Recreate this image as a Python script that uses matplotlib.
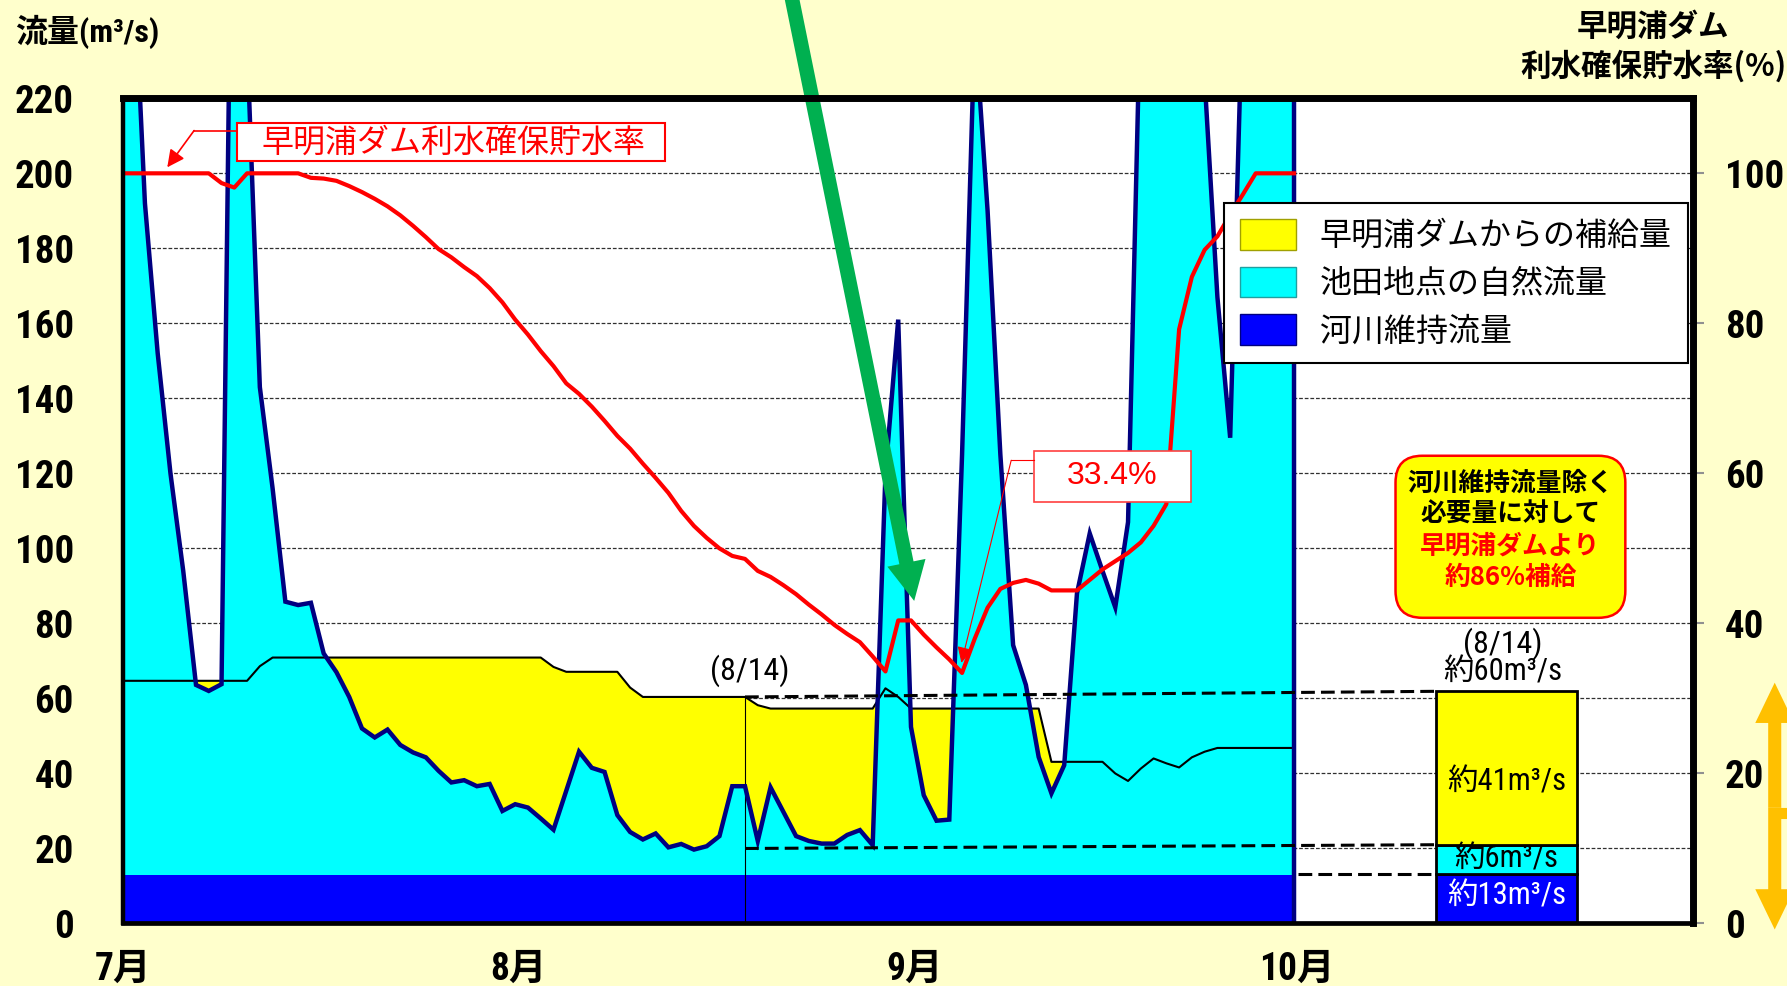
import numpy as np
import matplotlib.pyplot as plt
from matplotlib import font_manager as fm
from matplotlib.patches import Patch, Rectangle, FancyBboxPatch

plt.rcParams['font.family'] = ['Noto Sans CJK JP', 'DejaVu Sans']

# ---- data ----
month_labels = ['7月', '8月', '9月', '10月']
month_days = [0, 31, 62, 92]   # days from 7/1

# 池田地点の自然流量 (m3/s), daily 7/1 - 9/30
natural_flow = [265, 192, 152, 120, 94, 63.6, 62, 63.8, 340, 235,
                143, 116, 85.8, 84.9, 85.5, 72, 67, 60.4, 52, 49.6,
                51.7, 47.6, 45.6, 44.3, 40.7, 37.6, 38.2, 36.6, 37.2, 30,
                31.8, 30.9, 28, 25, 35.4, 45.8, 41.5, 40.4, 28.9, 24.4,
                22.4, 24, 20.3, 21.2, 19.7, 20.6, 23.3, 36.6, 36.6, 22,
                36.3, 29.8, 23.3, 22, 21.3, 21.3, 23.6, 24.9, 20.9, 120,
                161, 52.4, 34.2, 27.4, 27.7, 125, 240, 190, 125, 74.2,
                63.6, 44.4, 34.7, 42.2, 88, 104, 94, 84.3, 107, 250,
                250, 250, 250, 250, 225, 167, 129.5, 250, 250, 250,
                250, 250]

# 必要流量 (自然流量 + 早明浦ダムからの補給量)
required_flow = ([64.7] * 10 + [68.6] + [70.9] * 22 + [68.4] + [67.1] * 5 +
                 [62.9] + [60.4] * 9 + [58.2] + [57.3] * 9 + [62.7, 60.4] +
                 [57.3] * 11 + [43.1] * 5 +
                 [40, 38, 41.3, 44, 42.7, 41.6, 44.3, 45.8] + [46.8] * 7)

# 早明浦ダム利水確保貯水率 (%)
storage_rate = ([100] * 7 + [98.7, 98.1] + [100] * 5 +
                [99.4, 99.3, 99.0, 98.3, 97.5, 96.6, 95.6, 94.4, 93.0, 91.5,
                 89.9, 88.8, 87.5, 86.3, 84.7, 82.8, 80.5, 78.5, 76.3, 74.3,
                 72.0, 70.6, 68.9, 67.0, 65.0, 63.3, 61.3, 59.4, 57.4, 55.0,
                 53.0, 51.4, 50.0, 49.0, 48.6, 47.0, 46.2, 45.1, 43.9, 42.5,
                 41.2, 39.8, 38.6, 37.5, 35.6, 33.6, 40.4, 40.4, 38.5, 36.8,
                 35.2, 33.4, 38.0, 42.1, 44.6, 45.4, 45.8, 45.3, 44.4, 44.4,
                 44.4, 45.8, 47.2, 48.3, 49.4, 50.8, 53.0, 55.9, 79.2, 86.2,
                 89.8, 91.6, 94.5, 97.2] + [100] * 4)

maintenance_flow = 13.0       # 河川維持流量
ref_index = 48                # (8/14) marker in the series
low_level = 20.0              # lower reference level at (8/14)

# summary bar as drawn: 河川維持流量 / 自然流量 / ダム補給量
summary_parts = [13.3, 7.7, 40.9]
summary_colors = ['#0000FF', '#00FFFF', '#FFFF00']
summary_texts = ['約13m³/s', '約6m³/s', '約41m³/s']
summary_text_y = [7.4, 17.2, 37.7]
summary_total = '約60m³/s'
min_rate_label = '33.4%'

CYAN = '#00FFFF'
YELLOW = '#FFFF00'
BLUE = '#0000FF'
NAVY = '#000080'
BG = '#FFFFCC'

# pick a narrow latin face if one is installed
available = {f.name for f in fm.fontManager.ttflist}
narrow_name = next((n for n in ['Liberation Sans Narrow', 'Arial Narrow',
                                'Roboto Condensed', 'Open Sans Condensed']
                    if n in available), 'DejaVu Sans')
NARROW = [narrow_name, 'Noto Sans CJK JP', 'DejaVu Sans']
CJK = ['Noto Sans CJK JP', 'DejaVu Sans']

x = np.arange(len(natural_flow)) + 0.75
nat = np.asarray(natural_flow, dtype=float)
req = np.asarray(required_flow, dtype=float)
rate = np.asarray(storage_rate, dtype=float)
rate_scale = 220 / 110

fig = plt.figure(figsize=(17.87, 9.86), dpi=100, facecolor=BG)
ax_l, ax_b, ax_w, ax_h = 0.0686, 0.0634, 0.8788, 0.8369
ax = fig.add_axes([ax_l, ax_b, ax_w, ax_h])
ax.set_facecolor('white')
ax.set_xlim(0, 123)
ax.set_ylim(0, 220)

# grid
ax.set_yticks(range(0, 221, 20))
ax.grid(axis='y', color='#303030', lw=0.9, ls=(0, (3, 1.5)), zorder=0)
ax.set_axisbelow(True)

# fills
x_ext = np.r_[0, x]
ax.fill_between(x_ext, 0, np.r_[nat[0], nat], color=CYAN, lw=0, zorder=1)
ax.fill_between(x, nat, req, where=req > nat, interpolate=True,
                color=YELLOW, lw=0, zorder=1.2)
ax.fill_between([0, x[-1]], 0, maintenance_flow, color=BLUE, lw=0, zorder=1.4)

# lines
ax.plot([x[ref_index]] * 2, [0, req[ref_index]], color='black', lw=0.8, zorder=2)
ax.plot(x_ext, np.r_[req[0], req], color='black', lw=1.5, zorder=2.5)
ax.plot(np.r_[x, x[-1]], np.r_[nat, 0], color=NAVY, lw=3.2, zorder=3,
        solid_joinstyle='miter')
ax.plot(np.r_[0, x], np.r_[rate[0], rate] * rate_scale, color='red', lw=3,
        zorder=4)

# summary bar
bar_x, bar_w = 108.4, 11.0
bottoms = np.r_[0, np.cumsum(summary_parts)[:-1]]
ax.bar(bar_x, summary_parts, bottom=bottoms, width=bar_w, color=summary_colors,
       edgecolor='black', lw=2, zorder=3)
bar_left = bar_x - bar_w / 2
tops = np.cumsum(summary_parts)
dash = dict(color='black', lw=2.2, ls=(0, (4.5, 2)), zorder=3.5)
ax.plot([x[ref_index], bar_left], [req[ref_index], tops[2]], **dash)
ax.plot([x[ref_index], bar_left], [low_level, tops[1]], **dash)
ax.plot([x[-1] + 0.3, bar_left], [tops[0], tops[0]], **dash)

for txt, ty, col in zip(summary_texts, summary_text_y, ['white', 'black', 'black']):
    ax.text(bar_x, ty, txt, ha='center', va='center', fontsize=22, color=col,
            family=NARROW, stretch='condensed', zorder=6)
ax.text(bar_x - 0.3, 74.6, '(8/14)', ha='center', va='center', fontsize=23,
        family=NARROW, stretch='condensed', zorder=6)
ax.text(bar_x - 0.3, 67.1, summary_total, ha='center', va='center',
        fontsize=22, family=NARROW, stretch='condensed', zorder=6)
ax.text(x[ref_index] + 0.4, 67.5, '(8/14)', ha='center', va='center',
        fontsize=23, family=NARROW, stretch='condensed', zorder=6)

# red series label with arrow
ax.add_patch(Rectangle((9.0, 203.3), 33.45, 10.1, fc='white', ec='red',
                       lw=1.5, zorder=6))
ax.text(25.9, 208.3, '早明浦ダム利水確保貯水率', ha='center', va='center',
        fontsize=23, color='red', family=CJK, zorder=7)
ax.plot([9.0, 5.6], [211.4, 211.4], color='red', lw=1.2, zorder=6)
ax.annotate('', xy=(3.5, 201.6), xytext=(5.6, 211.4),
            arrowprops=dict(arrowstyle='-|>', color='red', lw=1.2,
                            mutation_scale=26, shrinkA=0, shrinkB=0),
            zorder=6)

# minimum rate label
ax.add_patch(Rectangle((71.4, 112.3), 12.25, 13.8, fc='white', ec='#FF4040',
                       lw=1.2, zorder=6))
ax.text(77.5, 119.2, min_rate_label, ha='center', va='center', fontsize=23,
        color='red', family=['Liberation Sans', 'DejaVu Sans'], zorder=7)
ax.plot([71.4, 69.6], [123.5, 123.5], color='red', lw=0.8, zorder=6)
ax.annotate('', xy=(65.7, 69.5), xytext=(69.6, 123.5),
            arrowprops=dict(arrowstyle='-|>', color='red', lw=0.8,
                            mutation_scale=24, shrinkA=0, shrinkB=0),
            zorder=6)

# green arrow
ax.annotate('', xy=(62.0, 86.0), xytext=(52.4, 247.0),
            arrowprops=dict(arrowstyle='simple,head_length=1.4,head_width=1.4,tail_width=0.52',
                            mutation_scale=20, color='#00B050', lw=0,
                            shrinkA=0, shrinkB=0),
            annotation_clip=False, zorder=8)

# orange double arrow at right edge
for tip in (64.2, -1.6):
    ax.annotate('', xy=(129.4, tip), xytext=(129.4, 31.0),
                arrowprops=dict(arrowstyle='simple,head_length=1.45,head_width=1.4,tail_width=0.47',
                                mutation_scale=20, color='#FFC000', lw=0,
                                shrinkA=0, shrinkB=0),
                annotation_clip=False, zorder=8)
ax.plot([129.4, 131.5], [29.4, 29.4], color='#FFC000', lw=8, clip_on=False,
        solid_capstyle='butt', zorder=8)

# supply ratio box
fig_w, fig_h = fig.get_size_inches() * fig.dpi
aspect = (ax_w * fig_w / 123) / (ax_h * fig_h / 220)
ax.add_patch(FancyBboxPatch((99.7, 81.5), 18.0, 43.2,
                            boxstyle='round,pad=0,rounding_size=2.1',
                            mutation_aspect=aspect, fc=YELLOW, ec='red',
                            lw=1.8, zorder=6))
box_lines = ['河川維持流量除く', '必要量に対して', '早明浦ダムより', '約86%補給']
box_cols = ['black', 'black', 'red', 'red']
for txt, ty, col in zip(box_lines, [117.3, 109.0, 100.6, 92.2], box_cols):
    ax.text(108.7, ty, txt, ha='center', va='center', fontsize=18.5,
            fontweight='bold', color=col, family=CJK, zorder=7)

# axes styling
for side, lw in (('top', 5), ('right', 5), ('left', 3.2), ('bottom', 3.4)):
    ax.spines[side].set_linewidth(lw)
    ax.spines[side].set_zorder(9)
ax.set_xticks(month_days, month_labels)
ax.tick_params(axis='x', length=0, pad=20, labelsize=27)
ax.tick_params(axis='y', length=0, pad=35, labelsize=28)
for lab in ax.get_xticklabels() + ax.get_yticklabels():
    lab.set_family(NARROW)
    lab.set_stretch('condensed')
    lab.set_fontweight('bold')

sec = ax.secondary_yaxis('right', functions=(lambda f: f / rate_scale,
                                             lambda p: p * rate_scale))
sec.set_yticks(range(0, 101, 20))
sec.spines['right'].set_visible(False)
sec.tick_params(length=8, width=1.5, color='#909090', pad=15, labelsize=28)
for lab in sec.get_yticklabels():
    lab.set_family(NARROW)
    lab.set_stretch('condensed')
    lab.set_fontweight('bold')

# legend
handles = [Patch(fc=YELLOW, ec='#A0A000', lw=1),
           Patch(fc=CYAN, ec='#20A0A0', lw=1),
           Patch(fc=BLUE, ec='#000080', lw=1)]
labels = ['早明浦ダムからの補給量', '池田地点の自然流量', '河川維持流量']
leg = fig.legend(handles, labels, loc='upper left',
                 bbox_to_anchor=(1224 / 1787, 1 - 203 / 986),
                 frameon=True, fancybox=False, framealpha=1, edgecolor='black',
                 prop=dict(family=CJK, size=23), handlelength=1.75,
                 handleheight=1.1, handletextpad=0.75, labelspacing=0.45,
                 borderpad=0.5, borderaxespad=0)
leg.get_frame().set_linewidth(1.5)

# titles
fig.text(15 / 1787, 1 - 32 / 986, '流量(m³/s)', ha='left', va='center',
         fontsize=23, fontweight='bold', family=NARROW, stretch='condensed')
fig.text(1653 / 1787, 1 - 27 / 986, '早明浦ダム', ha='center', va='center',
         fontsize=22, fontweight='bold', family=CJK)
fig.text(1653 / 1787, 1 - 66 / 986, '利水確保貯水率(%)', ha='center',
         va='center', fontsize=22, fontweight='bold', family=CJK)

fig.savefig('out.png', dpi=100, facecolor=fig.get_facecolor())
